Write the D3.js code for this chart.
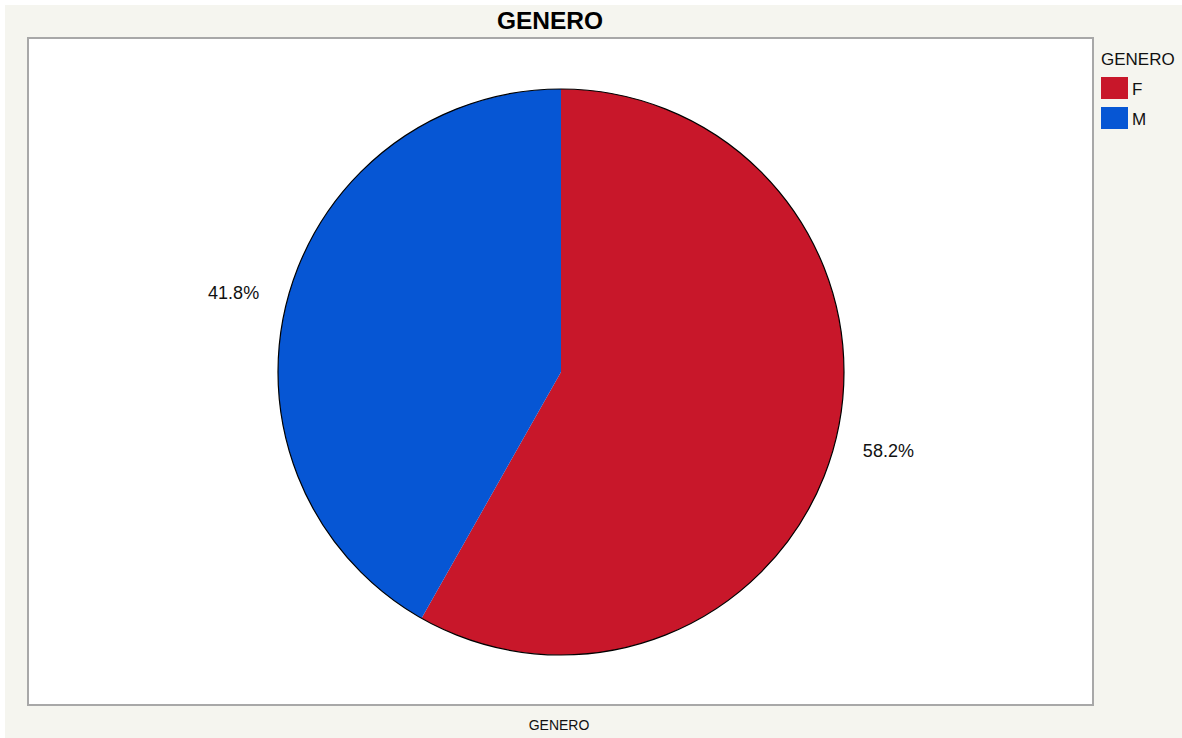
<!DOCTYPE html>
<html>
<head>
<meta charset="utf-8">
<script src="https://cdn.jsdelivr.net/npm/d3@7"></script>
<style>
  html, body { margin: 0; padding: 0; background: #ffffff; }
  svg { display: block; font-family: "Liberation Sans", Arial, Helvetica, sans-serif; }
</style>
</head>
<body>
<svg id="chart" width="1182" height="738"></svg>
<script>
// Gender distribution
const categories = ["F", "M"];
const percents = [58.2, 41.8];
const sliceColors = ["#c8172a", "#0656d4"];
const chartTitle = "GENERO";
const legendTitle = "GENERO";
const axisLabel = "GENERO";

const W = 1182, H = 738;
const svg = d3.select("#chart");

// page background
svg.append("rect").attr("x", 5).attr("y", 5).attr("width", W - 5).attr("height", H - 5)
  .attr("fill", "#f5f5ef");

// plot frame
const frame = { x: 28, y: 38, w: 1065, h: 667 };
svg.append("rect").attr("x", frame.x).attr("y", frame.y)
  .attr("width", frame.w).attr("height", frame.h)
  .attr("fill", "#ffffff").attr("stroke", "#a8a8a8").attr("stroke-width", 2);

// title
svg.append("text").attr("x", 550).attr("y", 29)
  .attr("text-anchor", "middle").attr("font-size", 24.5).attr("font-weight", "bold")
  .attr("fill", "#000").text(chartTitle);

// axis label below the frame
svg.append("text").attr("x", 559).attr("y", 730)
  .attr("text-anchor", "middle").attr("font-size", 14)
  .attr("fill", "#111").text(axisLabel);

// pie
const cx = 561, cy = 372, radius = 283;
const data = categories.map((c, i) => ({ cat: c, value: percents[i], color: sliceColors[i] }));
const pie = d3.pie().value(d => d.value).sort(null);
const arcs = pie(data);
const arc = d3.arc().innerRadius(0).outerRadius(radius);
const labelR = radius * 1.19;
const labelTilt = -1.2 * Math.PI / 180;

const g = svg.append("g").attr("transform", `translate(${cx},${cy})`);
g.selectAll("path.slice").data(arcs).join("path")
  .attr("class", "slice")
  .attr("d", arc)
  .attr("fill", d => d.data.color);

// outer edge outline only
g.append("circle").attr("r", radius).attr("fill", "none")
  .attr("stroke", "#000").attr("stroke-width", 1.2);

g.selectAll("text.pct").data(arcs).join("text")
  .attr("class", "pct")
  .attr("transform", d => {
    const a = (d.startAngle + d.endAngle) / 2 + labelTilt;
    return `translate(${labelR * Math.sin(a)},${-labelR * Math.cos(a)})`;
  })
  .attr("text-anchor", "middle").attr("dy", "0.35em")
  .attr("font-size", 18).attr("fill", "#111")
  .text(d => d.data.value.toFixed(1) + "%");

// legend
const lg = svg.append("g").attr("transform", "translate(1101,0)");
lg.append("text").attr("x", 0).attr("y", 65).attr("font-size", 17).attr("fill", "#111").text(legendTitle);
const items = lg.selectAll("g.item").data(data).join("g").attr("class", "item")
  .attr("transform", (d, i) => `translate(0,${77 + i * 30})`);
items.append("rect").attr("width", 27).attr("height", 22).attr("fill", d => d.color);
items.append("text").attr("x", 31).attr("y", 18).attr("font-size", 17).attr("fill", "#111").text(d => d.cat);
</script>
</body>
</html>
